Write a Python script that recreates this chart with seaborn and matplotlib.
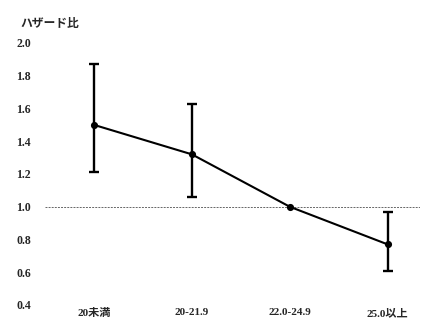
import numpy as np
import pandas as pd
import matplotlib
matplotlib.use("Agg")
import matplotlib.pyplot as plt
import seaborn as sns

# BMI categories and hazard ratios with 95% confidence limits
categories = ["20未満", "20-21.9", "22.0-24.9", "25.0以上"]
hazard_ratio = [1.50, 1.32, 1.00, 0.77]
ci_lower = [1.21, 1.06, 1.00, 0.61]
ci_upper = [1.87, 1.63, 1.00, 0.97]
y_ticks = [0.4, 0.6, 0.8, 1.0, 1.2, 1.4, 1.6, 1.8, 2.0]

sns.set_theme(style="white")
plt.rcParams["font.family"] = ["Liberation Serif", "Noto Sans CJK JP", "DejaVu Sans"]
plt.rcParams["font.weight"] = "bold"

df = pd.DataFrame({"category": categories, "hr": hazard_ratio})

fig = plt.figure(figsize=(4.22, 3.22), dpi=100)
ax = fig.add_axes([0.1066, 0.0528, 0.8887, 0.8137])

# reference line at HR = 1.0
ax.axhline(1.0, color="#666666", linewidth=0.7, linestyle=(0, (2, 1.2)), zorder=1)

sns.pointplot(data=df, x="category", y="hr", order=categories, errorbar=None,
              color="black", markers="o", markersize=4, linewidth=1.5, ax=ax, zorder=3)

# confidence intervals
pos = np.arange(len(categories))
has_ci = np.array(ci_upper) > np.array(ci_lower)
lo = np.array(hazard_ratio) - np.array(ci_lower)
hi = np.array(ci_upper) - np.array(hazard_ratio)
ax.errorbar(pos[has_ci], np.array(hazard_ratio)[has_ci],
            yerr=[lo[has_ci], hi[has_ci]], fmt="none", ecolor="black",
            elinewidth=1.7, capsize=3.6, capthick=1.7, zorder=2)

ax.set_xlim(-0.5, 3.33)
ax.set_ylim(0.4, 2.0)
ax.set_yticks(y_ticks)
ax.set_yticklabels([f"{v:.1f}" for v in y_ticks], fontsize=8.5, fontweight="bold")
ax.set_xticks(pos)
ax.set_xticklabels(categories, fontsize=8, fontweight="bold")
ax.tick_params(axis="y", length=0, pad=10)
ax.tick_params(axis="x", length=0, pad=2.5)
ax.set_xlabel("")
ax.set_ylabel("")
for s in ax.spines.values():
    s.set_visible(False)
ax.grid(False)

fig.text(20 / 422, 1 - 24 / 322, "ハザード比", fontsize=8.5, fontweight="bold",
         va="center", ha="left", family=["Noto Sans CJK JP", "DejaVu Sans"])

fig.savefig("out.png", dpi=100)
